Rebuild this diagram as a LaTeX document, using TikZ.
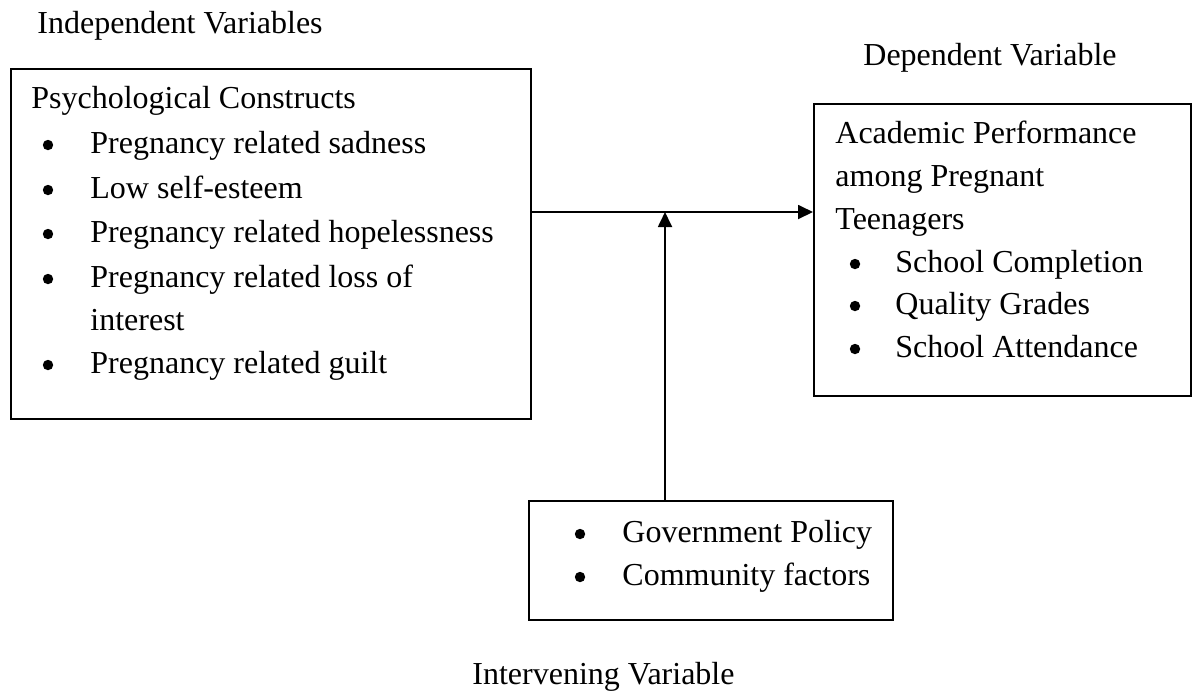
\documentclass[tikz,border=0pt]{standalone}
\usepackage{fontspec}
\setmainfont{Liberation Serif}
\usetikzlibrary{arrows.meta}
\begin{document}
\begin{tikzpicture}[x=0.5pt,y=-0.5pt,
  boxstyle/.style={draw, line width=0.9pt, inner sep=0pt},
  txt/.style={anchor=base west, inner sep=0pt, font=\fontsize{16}{19}\selectfont},
  bul/.style={circle, fill=black, inner sep=0pt, minimum size=5.2pt},
  conn/.style={line width=0.9pt, -{Triangle[length=7.5pt,width=7pt]}}]
\useasboundingbox (0,0) rectangle (1192,693);
% boxes
\node[boxstyle, minimum width=260pt, minimum height=175pt, anchor=north west] (lbox) at (10,68) {};
\node[boxstyle, minimum width=188.5pt, minimum height=146pt, anchor=north west] (rbox) at (813,103) {};
\node[boxstyle, minimum width=182pt, minimum height=59.5pt, anchor=north west] (ibox) at (528,500) {};
% labels
\node[txt] (lind) at (37,33) {Independent Variables};
\node[txt] (ldep) at (863,65) {Dependent Variable};
\node[txt] (lint) at (472,684) {Intervening Variable};
% left box text
\node[txt] (lt0) at (31,108) {Psychological Constructs};
\node[bul] (lb1) at (48,145) {};
\node[txt] (lt1) at (90,153) {Pregnancy related sadness};
\node[bul] (lb2) at (48,190) {};
\node[txt] (lt2) at (90,198) {Low self-esteem};
\node[bul] (lb3) at (48,234) {};
\node[txt] (lt3) at (90,242) {Pregnancy related hopelessness};
\node[bul] (lb4) at (48,279) {};
\node[txt] (lt4) at (90,287) {Pregnancy related loss of};
\node[txt] (lt4b) at (90,330) {interest};
\node[bul] (lb5) at (48,365) {};
\node[txt] (lt5) at (90,373) {Pregnancy related guilt};
% right box text
\node[txt] (rt0) at (835,143) {Academic Performance};
\node[txt] (rt0b) at (835,186) {among Pregnant};
\node[txt] (rt0c) at (835,229) {Teenagers};
\node[bul] (rb1) at (855,264) {};
\node[txt] (rt1) at (895,272) {School Completion};
\node[bul] (rb2) at (855,306) {};
\node[txt] (rt2) at (895,314) {Quality Grades};
\node[bul] (rb3) at (855,349) {};
\node[txt] (rt3) at (895,357) {School Attendance};
% intervening box text
\node[bul] (ib1) at (580,534) {};
\node[txt] (it1) at (622,542) {Government Policy};
\node[bul] (ib2) at (580,577) {};
\node[txt] (it2) at (622,585) {Community factors};
% connectors
\coordinate (j) at (665,212);
\draw[conn] (lbox.east |- j) -- (rbox.west |- j);
\draw[conn] (ibox.north -| j) -- (j);
\end{tikzpicture}
\end{document}
